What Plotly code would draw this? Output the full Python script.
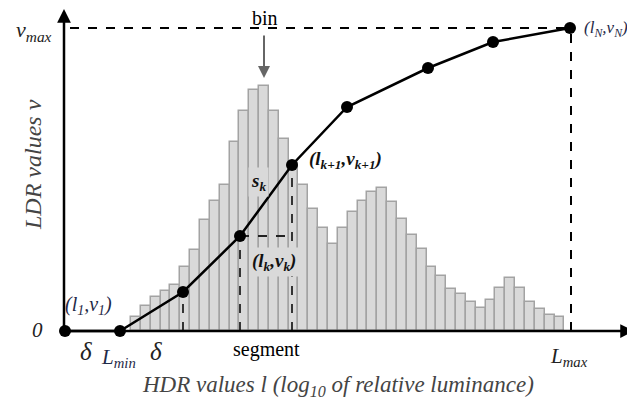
import plotly.graph_objects as go

# histogram (bin counts)
bin_start = 131
bin_width = 9.85
bin_counts = [14, 25, 34, 40, 46, 64, 81, 111, 130, 146, 189, 220, 241, 245, 220, 192,
              168, 146, 122, 103, 87, 103, 119, 130, 139, 143, 129, 112, 96, 82, 64, 55,
              42, 37, 29, 23, 31, 43, 53, 43, 29, 22, 16, 14]

# tone curve nodes (l, v)
curve_l = [65, 120, 183, 240, 292, 347, 428, 493, 570]
curve_v = [0, 0, 39, 95, 166, 224, 263, 289, 303]

l_max = 571
v_max = 303

bin_x = [bin_start + (i + 0.5) * bin_width for i in range(len(bin_counts))]

SERIF = "Liberation Serif, Times New Roman, serif"
NAVY = "#1f2a48"

fig = go.Figure()

fig.add_trace(go.Bar(
    x=bin_x, y=bin_counts, width=bin_width,
    marker=dict(color="#d9d9d9", line=dict(color="#a3a3a3", width=1.5)),
    hoverinfo="skip",
))

# dashed guides
dash = dict(color="black", width=2, dash="dash")
fig.add_trace(go.Scatter(x=[70, l_max], y=[v_max, v_max], mode="lines", line=dash))
fig.add_trace(go.Scatter(x=[l_max, l_max], y=[0, v_max], mode="lines", line=dash))
seg = dict(color="#222222", width=1.8, dash="dash")
for i in (2, 3, 4):
    fig.add_trace(go.Scatter(x=[curve_l[i], curve_l[i]], y=[0, curve_v[i]],
                             mode="lines", line=seg))
fig.add_trace(go.Scatter(x=[curve_l[3], curve_l[4]], y=[curve_v[3], curve_v[3]],
                         mode="lines", line=seg))

# axes with arrows
for ax_, ay_, x_, y_ in [(64, 0, 64, 322), (64, 0, 634, 0)]:
    fig.add_annotation(x=x_, y=y_, ax=ax_, ay=ay_, xref="x", yref="y", axref="x", ayref="y",
                       showarrow=True, arrowhead=2, arrowsize=1.1, arrowwidth=2.5,
                       arrowcolor="black", text="")

# curve
fig.add_trace(go.Scatter(
    x=curve_l, y=curve_v, mode="lines+markers",
    line=dict(color="black", width=2.5),
    marker=dict(color="black", size=12),
))

# bin arrow
fig.add_annotation(x=264, y=253, ax=264, ay=297, xref="x", yref="y", axref="x", ayref="y",
                   showarrow=True, arrowhead=2, arrowsize=1.2, arrowwidth=2,
                   arrowcolor="#666666", text="")


def label(x, y, text, size=20, color="black", bg=None, xanchor="center"):
    fig.add_annotation(x=x, y=y, xref="x", yref="y", text=text, showarrow=False,
                       font=dict(family=SERIF, size=size, color=color),
                       bgcolor=bg, xanchor=xanchor, borderpad=2)


label(265, 313, "bin", 20)
label(34, 300, "<i>v<sub>max</sub></i>", 22, "#222222")
label(37, 1, "<i>0</i>", 21, "#222222")
label(88, 26, "<i>(l<sub>1</sub>,v<sub>1</sub>)</i>", 20, NAVY)
label(581, 302, "<i>(l<sub>N</sub>,v<sub>N</sub>)</i>", 17, NAVY, xanchor="left")
label(345, 171, "<b><i>(l<sub>k+1</sub>,v<sub>k+1</sub>)</i></b>", 19, "#111111")
label(258, 149, "<b><i>s<sub>k</sub></i></b>", 19, "#111111", bg="#d9d9d9")
label(274, 69, "<b><i>(l<sub>k</sub>,v<sub>k</sub>)</i></b>", 19, "#111111", bg="#d9d9d9")
label(86, -20, "<i>δ</i>", 25, "#222222")
label(156, -20, "<i>δ</i>", 25, "#222222")
label(118, -27, "<i>L<sub>min</sub></i>", 21, NAVY)
label(266, -18, "segment", 20)
label(569, -26, "<i>L<sub>max</sub></i>", 21, "#222222")
label(338, -55, "<i>HDR values l (log<sub>10</sub> of relative luminance)</i>", 23, "#444444")

fig.add_annotation(x=33, y=166, xref="x", yref="y", text="<i>LDR values v</i>",
                   showarrow=False, textangle=-90,
                   font=dict(family=SERIF, size=24, color="#444444"))

# the page body adds an 8px offset, so the ranges are shifted to match
fig.update_layout(
    width=635, height=408,
    margin=dict(l=0, r=0, t=0, b=0),
    paper_bgcolor="white", plot_bgcolor="white",
    showlegend=False, bargap=0,
    xaxis=dict(range=[8, 643], visible=False, fixedrange=True),
    yaxis=dict(range=[-85, 323], visible=False, fixedrange=True),
)

fig.write_html("out.html")
